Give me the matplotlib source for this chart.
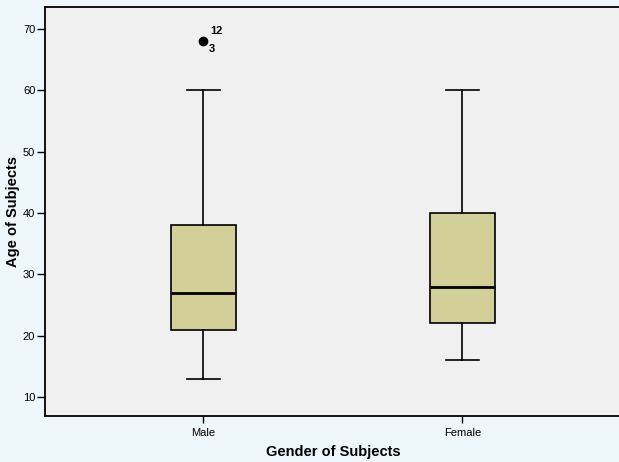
import matplotlib
matplotlib.use("Agg")
import matplotlib.pyplot as plt

plt.rcParams["font.family"] = ["Liberation Sans", "DejaVu Sans"]

groups = ["Male", "Female"]
whisker_low = [13, 16]
q1 = [21, 22]
medians = [27, 28]
q3 = [38, 40]
whisker_high = [60, 60]
outliers = [[68], []]
outlier_labels = [["12", "3"], []]
yticks = [10, 20, 30, 40, 50, 60, 70]

stats = []
for i in range(len(groups)):
    stats.append({
        "label": groups[i],
        "whislo": whisker_low[i],
        "q1": q1[i],
        "med": medians[i],
        "q3": q3[i],
        "whishi": whisker_high[i],
        "fliers": outliers[i],
    })

fig = plt.figure(figsize=(6.19, 4.62), dpi=100)
fig.patch.set_facecolor("#EEF7FC")
ax = fig.add_axes([0.0727, 0.0996, 0.93, 0.8854])
ax.set_facecolor("#F0F0F0")

positions = [1, 2]
ax.bxp(
    stats,
    positions=positions,
    widths=0.25,
    patch_artist=True,
    boxprops=dict(facecolor="#D3CF98", edgecolor="black", linewidth=1.2),
    medianprops=dict(color="black", linewidth=2.0),
    whiskerprops=dict(color="black", linewidth=1.2),
    capprops=dict(color="black", linewidth=1.2),
    capwidths=0.127,
    flierprops=dict(marker="o", markerfacecolor="black", markeredgecolor="black",
                    markersize=6),
)

for i in range(len(groups)):
    for v in outliers[i]:
        labs = outlier_labels[i]
        ax.annotate(labs[0], (positions[i], v), xytext=(5, 5), textcoords="offset points",
                    fontsize=8, fontweight="bold")
        ax.annotate(labs[1], (positions[i], v), xytext=(4, -8), textcoords="offset points",
                    fontsize=8, fontweight="bold")

ax.set_xlim(0.39, 2.61)
ax.set_ylim(6.9, 73.6)
ax.set_yticks(yticks)
ax.set_xticks(positions)
ax.set_xticklabels(groups)
ax.tick_params(axis="both", labelsize=8, direction="out", width=1, color="black")
ax.tick_params(axis="y", length=6, pad=1)
ax.tick_params(axis="x", length=5, pad=4)
for s in ax.spines.values():
    s.set_linewidth(1.3)
    s.set_color("black")

ax.set_xlabel("Gender of Subjects", fontsize=10.5, fontweight="bold")
ax.set_ylabel("Age of Subjects", fontsize=10.5, fontweight="bold")
ax.xaxis.set_label_coords(0.5, -0.072)
ax.yaxis.set_label_coords(-0.044, 0.5)

fig.savefig("out.png", dpi=100, facecolor=fig.get_facecolor())
